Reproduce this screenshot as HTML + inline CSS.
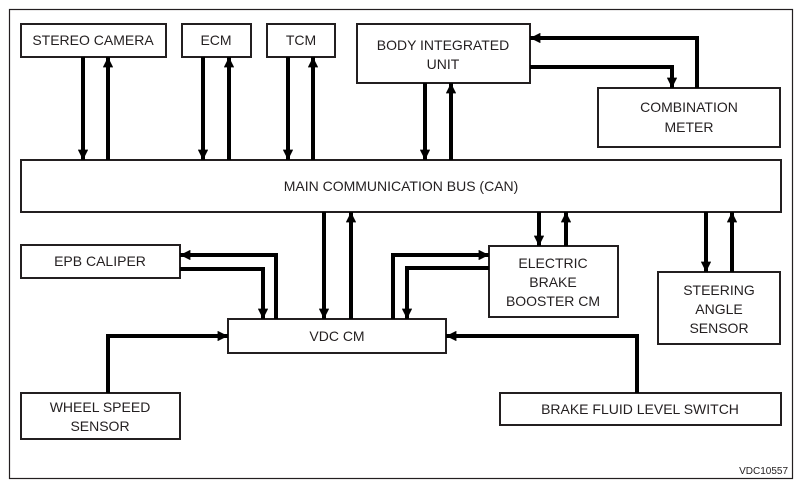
<!DOCTYPE html>
<html><head><meta charset="utf-8"><style>
html,body{margin:0;padding:0;background:#fff;}
svg{display:block;}
text{font-family:"Liberation Sans",sans-serif;font-size:14px;fill:#231f20;}
</style></head><body>
<svg width="802" height="490" viewBox="0 0 802 490" xmlns="http://www.w3.org/2000/svg">
<defs>
<marker id="a" viewBox="0 0 10 10" refX="10" refY="5" markerWidth="2.6" markerHeight="2.6" orient="auto" markerUnits="strokeWidth">
<path d="M0,0 L10,5 L0,10 z" fill="#000"/></marker>
</defs>
<rect x="9.5" y="9.5" width="783" height="469" fill="none" stroke="#231f20" stroke-width="1.2"/>
<g fill="#fff" stroke="#231f20" stroke-width="2">
<rect x="21" y="24" width="145" height="33"/>
<rect x="182" y="24" width="69" height="33"/>
<rect x="267" y="24" width="68" height="33"/>
<rect x="357" y="24" width="173" height="59"/>
<rect x="598" y="88" width="182" height="59"/>
<rect x="21" y="160" width="760" height="52"/>
<rect x="21" y="245" width="159" height="33"/>
<rect x="489" y="246" width="129" height="71"/>
<rect x="658" y="272" width="122" height="72"/>
<rect x="228" y="319" width="218" height="34"/>
<rect x="21" y="393" width="159" height="46"/>
<rect x="500" y="393" width="281" height="32"/>
</g>
<g fill="none" stroke="#000" stroke-width="4" marker-end="url(#a)">
<path d="M83 57 V160"/><path d="M108 160 V57"/>
<path d="M203 57 V160"/><path d="M229 160 V57"/>
<path d="M288 57 V160"/><path d="M313 160 V57"/>
<path d="M425 83 V160"/><path d="M451 160 V83"/>
<path d="M697 88 V38 H530"/><path d="M530 67 H672 V88"/>
<path d="M324 212 V319"/><path d="M351 319 V212"/>
<path d="M539 212 V246"/><path d="M566 246 V212"/>
<path d="M706 212 V272"/><path d="M732 272 V212"/>
<path d="M276 319 V255 H180"/><path d="M180 269 H263 V319"/>
<path d="M393 319 V255 H489"/><path d="M489 268 H407 V319"/>
<path d="M108 393 V336 H228"/>
<path d="M637 393 V336 H446"/>
</g>
<g text-anchor="middle">
<text x="93" y="45">STEREO CAMERA</text>
<text x="216" y="45">ECM</text>
<text x="301" y="45">TCM</text>
<text x="443" y="50">BODY INTEGRATED</text>
<text x="443" y="69">UNIT</text>
<text x="689" y="112">COMBINATION</text>
<text x="689" y="132">METER</text>
<text x="401" y="191">MAIN COMMUNICATION BUS (CAN)</text>
<text x="100" y="266">EPB CALIPER</text>
<text x="553" y="268">ELECTRIC</text>
<text x="553" y="287">BRAKE</text>
<text x="553" y="306">BOOSTER CM</text>
<text x="719" y="295">STEERING</text>
<text x="719" y="314">ANGLE</text>
<text x="719" y="333">SENSOR</text>
<text x="337" y="341">VDC CM</text>
<text x="100" y="412">WHEEL SPEED</text>
<text x="100" y="431">SENSOR</text>
<text x="640" y="414">BRAKE FLUID LEVEL SWITCH</text>
<text x="788" y="474" text-anchor="end" style="font-size:10px">VDC10557</text>
</g>
</svg>
</body></html>
